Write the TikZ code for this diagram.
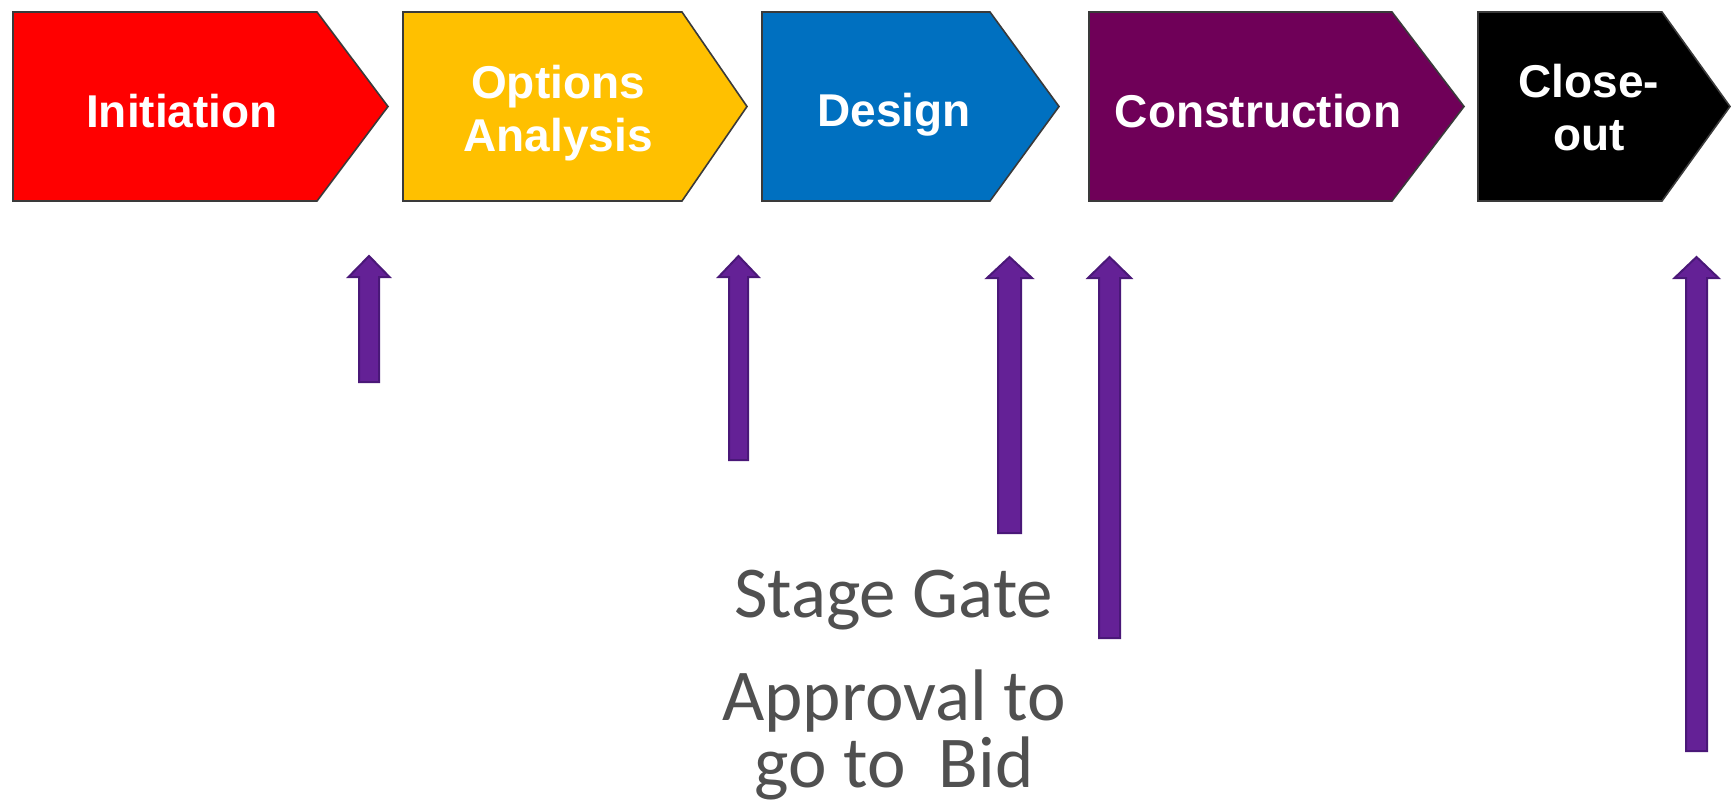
\documentclass[tikz,border=0pt]{standalone}
\usepackage{fontspec}
\setmainfont{Liberation Sans}
\newfontfamily\gatefont{Carlito}
\definecolor{phred}{HTML}{FF0000}
\definecolor{phyellow}{HTML}{FFC000}
\definecolor{phblue}{HTML}{0070C0}
\definecolor{phpurple}{HTML}{6F0058}
\definecolor{phblack}{HTML}{000000}
\definecolor{phedge}{HTML}{3A3A3A}
\definecolor{arrowfill}{HTML}{642196}
\definecolor{arrowedge}{HTML}{4A1878}
\definecolor{gatetextcol}{HTML}{505050}
\tikzset{
  phase/.style={draw=phedge, line width=0.8pt, line join=miter},
  phasetext/.style={text=white, font=\bfseries\fontsize{23}{26.5}\selectfont, inner sep=0pt, anchor=base},
  gatearrow/.style={fill=arrowfill, draw=arrowedge, line width=1pt, line join=miter},
  gatetext/.style={text=gatetextcol, font=\gatefont\fontsize{36.5}{33.5}\selectfont, inner sep=0pt, anchor=base}
}
\newcommand\chevronpath[5]{% left, shoulder, tip, fill, name
  \fill[#4] (#1,12) -- (#2,12) -- (#3,106.5) -- (#2,201) -- (#1,201) -- cycle;
  \draw[phase] (#1,12) -- (#2,12) -- (#3,106.5) -- (#2,201) -- (#1,201) -- cycle;
  \coordinate (#5) at ({(#1+#2)/2},106.5);
}
\newcommand\gateup[6]{% x, tip y, bottom y, head half, shaft half, name
  \draw[gatearrow] (#1,#2) -- ({#1+#4},{#2+21}) -- ({#1+#5},{#2+21}) -- ({#1+#5},#3)
     -- ({#1-#5},#3) -- ({#1-#5},{#2+21}) -- ({#1-#4},{#2+21}) -- cycle;
  \coordinate (#6) at (#1,#2);
}
\newcommand\twolines[2]{\begin{tabular}[t]{@{}c@{}}#1\\#2\end{tabular}}
\begin{document}
\begin{tikzpicture}[x=0.5pt,y=-0.5pt]
\useasboundingbox[fill=white] (0,0) rectangle (1731,804);
% phases
\chevronpath{13}{317}{388}{phred}{c1}
\chevronpath{403}{682}{747}{phyellow}{c2}
\chevronpath{762}{990}{1059}{phblue}{c3}
\chevronpath{1089}{1392}{1464}{phpurple}{c4}
\chevronpath{1478}{1662}{1730}{phblack}{c5}
\node[phasetext] (t1) at (182,127) {Initiation};
\node[phasetext] (t2) at (558,98) {\twolines{Options}{Analysis}};
\node[phasetext] (t3) at (894,126) {Design};
\node[phasetext] (t4) at (1258,127) {Construction};
\node[phasetext] (t5) at (1589,97.5) {\twolines{Close-}{out}};
% gate arrows
\gateup{369}{256}{382}{20.5}{10}{g1}
\gateup{738.5}{256}{460}{20}{9.5}{g2}
\gateup{1009.5}{257}{533}{22.5}{11.5}{g3}
\gateup{1109.5}{257}{638}{21.5}{10.5}{g4}
\gateup{1696.5}{257}{751}{22}{10.5}{g5}
% gate text
\node[gatetext] (sg) at (893.5,617) {Stage Gate};
\node[gatetext] (ap1) at (894,720) {Approval to};
\node[gatetext] (ap2) at (894,787) {go to~~Bid};
\end{tikzpicture}
\end{document}
